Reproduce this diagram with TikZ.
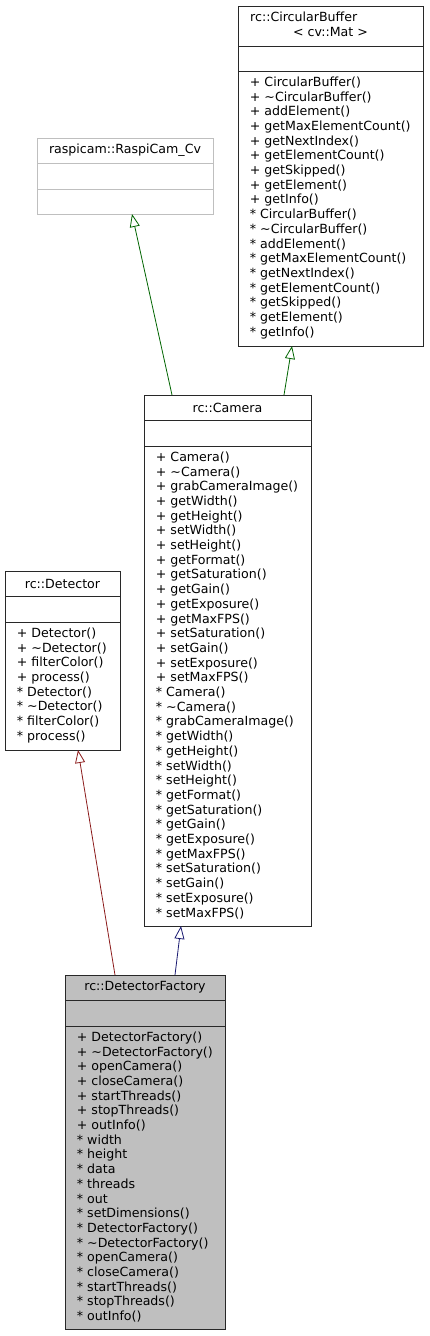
\documentclass[tikz,border=0pt]{standalone}
\usepackage{fontspec}
\setmainfont{DejaVu Sans}
\usetikzlibrary{positioning,arrows.meta}
\definecolor{dInhPub} {RGB}{ 25, 25,112}
\definecolor{dInhPro} {RGB}{  0,100,  0}
\definecolor{dInhPri} {RGB}{139, 26, 26}
\definecolor{dCur}    {RGB}{191,191,191}
\definecolor{dExt}    {RGB}{191,191,191}
\definecolor{dLine}   {RGB}{ 40, 40, 40}

\begin{document}
\begin{tikzpicture}[x=1pt,y=1pt]

% ---------------------------------------------------------------- styles
\tikzset{
  part/.style = {draw=dLine, line width=1pt, fill=white, inner sep=0pt,
                 outer sep=0pt, minimum height=25pt,
                 font=\fontsize{12.6}{14.7}\selectfont},
  cur/.style  = {part, fill=dCur},
  ext/.style  = {part, draw=dExt},
  txt/.style  = {font=\fontsize{12.6}{14.7}\selectfont, inner sep=0pt},
  ops/.style  = {txt, align=left, anchor=north west},
  inh/.style  = {line width=0.8pt, -{Triangle[open, length=13pt, width=10pt]}},
}

\useasboundingbox (0,0) rectangle (429,-1336);

% ======================================================= rc::CircularBuffer
\node[part, anchor=north west, minimum width=185pt, minimum height=40pt]
  (cbH) at (238,-6) {};
\node[part, below=0pt of cbH, minimum width=185pt, minimum height=25pt] (cbA) {};
\node[part, below=0pt of cbA, minimum width=185pt, minimum height=275pt] (cbO) {};
\node[txt, anchor=west] (cbT) at ([xshift=12pt, yshift=-11pt]cbH.north west)
  {rc::CircularBuffer};
\node[txt] (cbT2) at ([yshift=-26pt]cbH.north) {< cv::Mat >};
\node[ops] (cbL) at ([xshift=11.7pt, yshift=-5.6pt]cbO.north west)
  {+ CircularBuffer()\\ + \textasciitilde CircularBuffer()\\ + addElement()\\
   + getMaxElementCount()\\ + getNextIndex()\\ + getElementCount()\\
   + getSkipped()\\ + getElement()\\ + getInfo()\\
   * CircularBuffer()\\ * \textasciitilde CircularBuffer()\\ * addElement()\\
   * getMaxElementCount()\\ * getNextIndex()\\ * getElementCount()\\
   * getSkipped()\\ * getElement()\\ * getInfo()};

% ================================================== raspicam::RaspiCam_Cv
\node[ext, anchor=north west, minimum width=176pt] (rcH) at (37,-138)
  {raspicam::RaspiCam\_Cv};
\node[ext, below=0pt of rcH, minimum width=176pt, minimum height=26pt] (rcA) {};
\node[ext, below=0pt of rcA, minimum width=176pt, minimum height=25pt] (rcO) {};

% ============================================================= rc::Camera
\node[part, anchor=north west, minimum width=167pt] (camH) at (144,-395)
  {rc::Camera};
\node[part, below=0pt of camH, minimum width=167pt, minimum height=26pt] (camA) {};
\node[part, below=0pt of camA, minimum width=167pt, minimum height=480pt] (camO) {};
\node[ops] (camL) at ([xshift=11.7pt, yshift=-5.6pt]camO.north west)
  {+ Camera()\\ + \textasciitilde Camera()\\ + grabCameraImage()\\
   + getWidth()\\ + getHeight()\\ + setWidth()\\ + setHeight()\\
   + getFormat()\\ + getSaturation()\\ + getGain()\\ + getExposure()\\
   + getMaxFPS()\\ + setSaturation()\\ + setGain()\\ + setExposure()\\
   + setMaxFPS()\\
   * Camera()\\ * \textasciitilde Camera()\\ * grabCameraImage()\\
   * getWidth()\\ * getHeight()\\ * setWidth()\\ * setHeight()\\
   * getFormat()\\ * getSaturation()\\ * getGain()\\ * getExposure()\\
   * getMaxFPS()\\ * setSaturation()\\ * setGain()\\ * setExposure()\\
   * setMaxFPS()};

% =========================================================== rc::Detector
\node[part, anchor=north west, minimum width=115pt] (detH) at (5,-571)
  {rc::Detector};
\node[part, below=0pt of detH, minimum width=115pt, minimum height=26pt] (detA) {};
\node[part, below=0pt of detA, minimum width=115pt, minimum height=128pt] (detO) {};
\node[ops] (detL) at ([xshift=11.7pt, yshift=-5.6pt]detO.north west)
  {+ Detector()\\ + \textasciitilde Detector()\\ + filterColor()\\ + process()\\
   * Detector()\\ * \textasciitilde Detector()\\ * filterColor()\\ * process()};

% ==================================================== rc::DetectorFactory
\node[cur, anchor=north west, minimum width=160pt] (dfH) at (65,-975)
  {rc::DetectorFactory};
\node[cur, below=0pt of dfH, minimum width=160pt, minimum height=26pt] (dfA) {};
\node[cur, below=0pt of dfA, minimum width=160pt, minimum height=303pt] (dfO) {};
\node[ops] (dfL) at ([xshift=11.7pt, yshift=-5.6pt]dfO.north west)
  {+ DetectorFactory()\\ + \textasciitilde DetectorFactory()\\ + openCamera()\\
   + closeCamera()\\ + startThreads()\\ + stopThreads()\\ + outInfo()\\
   * width\\ * height\\ * data\\ * threads\\ * out\\ * setDimensions()\\
   * DetectorFactory()\\ * \textasciitilde DetectorFactory()\\ * openCamera()\\
   * closeCamera()\\ * startThreads()\\ * stopThreads()\\ * outInfo()};

% ------------------------------------------------------------ inheritance
\draw[inh, draw=dInhPro] ([xshift=-55.5pt]camH.north) -- ([xshift=7pt]rcO.south);
\draw[inh, draw=dInhPro] ([xshift=56.5pt]camH.north) -- ([xshift=-38.5pt]cbO.south);
\draw[inh, draw=dInhPri] ([xshift=-30pt]dfH.north) -- ([xshift=15.5pt]detO.south);
\draw[inh, draw=dInhPub] ([xshift=30pt]dfH.north) -- ([xshift=-46.5pt]camO.south);

\end{tikzpicture}
\end{document}
